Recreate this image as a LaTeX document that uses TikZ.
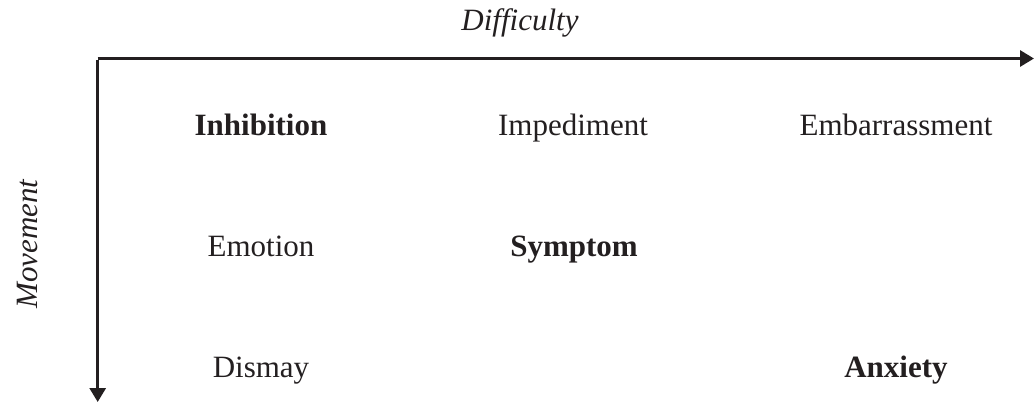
\documentclass[tikz,border=0pt]{standalone}
\usepackage{fontspec}
\setmainfont{Liberation Serif}
\usetikzlibrary{arrows.meta}
\definecolor{ink}{HTML}{231F20}
\begin{document}
\begin{tikzpicture}[x=1pt,y=-1pt,
  lbl/.style={anchor=base,inner sep=0pt,text=ink,font=\fontsize{31}{37}\selectfont},
  blbl/.style={lbl,font=\fontsize{31}{37}\selectfont\bfseries},
  axlbl/.style={lbl,font=\fontsize{31}{37}\selectfont\itshape},
  axis/.style={draw=ink,line width=3pt,-{Triangle[length=14pt,width=16pt]}}]
\useasboundingbox (0,0) rectangle (1034,402);
\coordinate (o) at (97.7,58.5);
\coordinate (xe) at (1034,58.5);
\coordinate (ye) at (97.7,402);
\draw[axis] (o) -- (xe);
\draw[axis] ([yshift=-1.5pt]o) -- (ye);
\node[axlbl] (dif) at (520,30) {Difficulty};
\node[axlbl,rotate=90] (mov) at (37,244) {Movement};
\node[blbl] (inh) at (261,135) {Inhibition};
\node[lbl] (imp) at (573,135) {Impediment};
\node[lbl] (emb) at (896,135) {Embarrassment};
\node[lbl] (emo) at (261,256) {Emotion};
\node[blbl] (sym) at (574,256) {Symptom};
\node[lbl] (dis) at (261,377) {Dismay};
\node[blbl] (anx) at (896,377) {Anxiety};
\end{tikzpicture}
\end{document}
